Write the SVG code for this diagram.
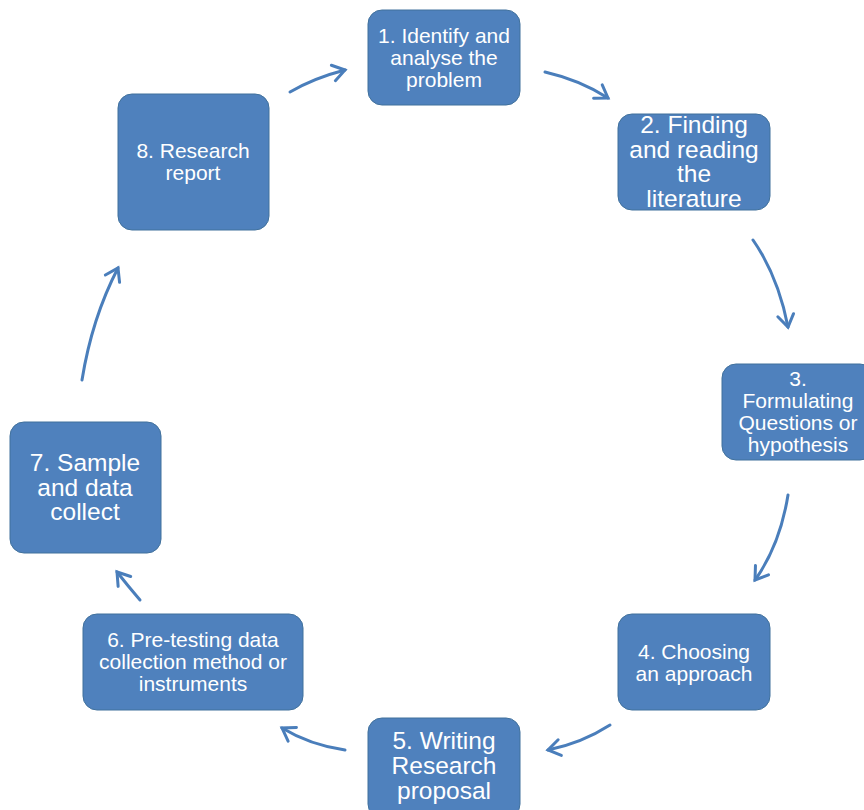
<svg xmlns="http://www.w3.org/2000/svg" width="864" height="810" viewBox="0 0 864 810">
<defs>
<style>
.box{fill:#4f81bd;stroke:#41719c;stroke-width:1}
.t{font-family:"Liberation Sans",Arial,sans-serif;fill:#ffffff;text-anchor:middle}
.s{font-size:21px}
.l{font-size:24.5px}
.c{fill:none;stroke:#4a7ebb;stroke-width:3;stroke-linecap:round}
</style>
<marker id="ah" markerUnits="userSpaceOnUse" markerWidth="30" markerHeight="30" refX="0" refY="0" viewBox="-15 -15 30 30" orient="auto" overflow="visible">
<path d="M-12,-8 L0,0 L-12,8" fill="none" stroke="#4a7ebb" stroke-width="3" stroke-linecap="round" stroke-linejoin="miter"/>
</marker>
</defs>
<rect width="864" height="810" fill="#ffffff"/>
<g id="connectors">
<path class="c" d="M290,92 Q314,78 345,70" marker-end="url(#ah)"/>
<path class="c" d="M545,72 Q580,80 608,98" marker-end="url(#ah)"/>
<path class="c" d="M753,240 Q778,276 788,327" marker-end="url(#ah)"/>
<path class="c" d="M788,495 Q780,545 755,580" marker-end="url(#ah)"/>
<path class="c" d="M610,725 Q582,743 548,750" marker-end="url(#ah)"/>
<path class="c" d="M345,750 Q310,745 282,728" marker-end="url(#ah)"/>
<path class="c" d="M140,600 Q128,586 117,572" marker-end="url(#ah)"/>
<path class="c" d="M82,380 Q92,318 118,268" marker-end="url(#ah)"/>
</g>
<g id="node1">
<rect class="box" x="368" y="10" width="152" height="95" rx="14"/>
<text class="t s"><tspan x="444" y="43">1. Identify and</tspan><tspan x="444" y="65">analyse the</tspan><tspan x="444" y="87">problem</tspan></text>
</g>
<g id="node2">
<rect class="box" x="618" y="114" width="152" height="96" rx="14"/>
<text class="t l"><tspan x="694" y="133">2. Finding</tspan><tspan x="694" y="158">and reading</tspan><tspan x="694" y="182">the</tspan><tspan x="694" y="207">literature</tspan></text>
</g>
<g id="node3">
<rect class="box" x="722" y="364" width="152" height="96" rx="14"/>
<text class="t s"><tspan x="798" y="386">3.</tspan><tspan x="798" y="408">Formulating</tspan><tspan x="798" y="430">Questions or</tspan><tspan x="798" y="452">hypothesis</tspan></text>
</g>
<g id="node4">
<rect class="box" x="618" y="614" width="152" height="96" rx="14"/>
<text class="t s"><tspan x="694" y="659">4. Choosing</tspan><tspan x="694" y="681">an approach</tspan></text>
</g>
<g id="node5">
<rect class="box" x="368" y="718" width="152" height="100" rx="14"/>
<text class="t l"><tspan x="444" y="749">5. Writing</tspan><tspan x="444" y="774">Research</tspan><tspan x="444" y="799">proposal</tspan></text>
</g>
<g id="node6">
<rect class="box" x="83" y="614" width="220" height="96" rx="14"/>
<text class="t s"><tspan x="193" y="647">6. Pre-testing data</tspan><tspan x="193" y="669">collection method or</tspan><tspan x="193" y="691">instruments</tspan></text>
</g>
<g id="node7">
<rect class="box" x="10" y="422" width="151" height="131" rx="14"/>
<text class="t l"><tspan x="85" y="471">7. Sample</tspan><tspan x="85" y="496">and data</tspan><tspan x="85" y="520">collect</tspan></text>
</g>
<g id="node8">
<rect class="box" x="118" y="94" width="151" height="136" rx="14"/>
<text class="t s"><tspan x="193" y="158">8. Research</tspan><tspan x="193" y="180">report</tspan></text>
</g>
</svg>
